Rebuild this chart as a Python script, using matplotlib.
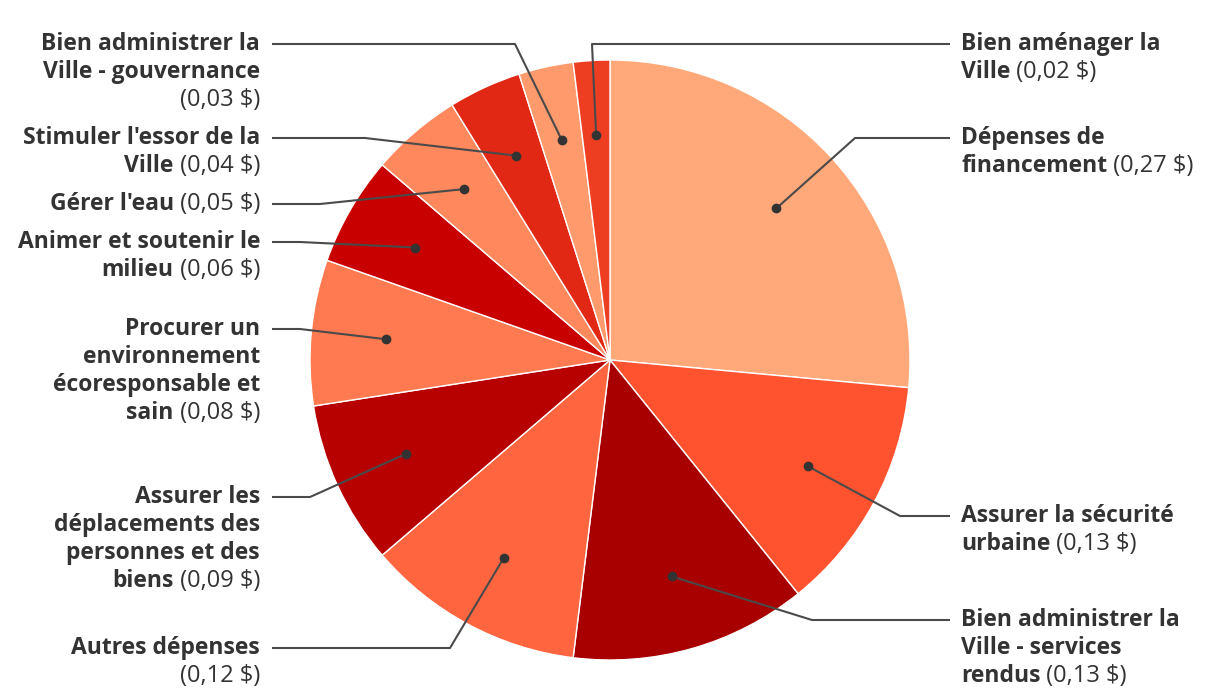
import numpy as np
import matplotlib.pyplot as plt

# data, clockwise from 12 o'clock
names = [
    "Dépenses de\nfinancement",
    "Assurer la sécurité\nurbaine",
    "Bien administrer la\nVille - services\nrendus",
    "Autres dépenses\n",
    "Assurer les\ndéplacements des\npersonnes et des\nbiens",
    "Procurer un\nenvironnement\nécoresponsable et\nsain",
    "Animer et soutenir le\nmilieu",
    "Gérer l'eau",
    "Stimuler l'essor de la\nVille",
    "Bien administrer la\nVille - gouvernance\n",
    "Bien aménager la\nVille",
]
values = [0.27, 0.13, 0.13, 0.12, 0.09, 0.08, 0.06, 0.05, 0.04, 0.03, 0.02]
colors = ["#FFA97A", "#FF5330", "#A80000", "#FF6640", "#B70000", "#FF7A50",
          "#C80000", "#FF885C", "#E02814", "#FF9A6C", "#EE3E22"]

# layout (pixels from top): label line y, elbow x, side
label_y = [138, 516, 620, 648, 497, 329, 242, 204, 138, 44, 44]
elbow_x = [855, 900, 812, 450, 310, 300, 300, 320, 365, 515, 592]
side = ["R", "R", "R", "L", "L", "L", "L", "L", "L", "L", "R"]

W, H = 1220, 700
CX, CY, R = 610, 340, 300
LEFT_X, RIGHT_X = 260, 961
LINE_H = 28
TXT = "#333333"
FONT = "Open Sans"
FS = 16.5
FS_VAL = 17

fig = plt.figure(figsize=(12.2, 7), dpi=100)
ax = fig.add_axes([0, 0, 1, 1])

wedges, _ = ax.pie(values, colors=colors, startangle=90, counterclock=False,
                   center=(CX, CY), radius=R,
                   wedgeprops=dict(edgecolor="white", linewidth=1))
ax.set_xlim(0, W)
ax.set_ylim(0, H)
ax.set_aspect("equal")
ax.axis("off")

fig.canvas.draw()
renderer = fig.canvas.get_renderer()


def text_width(t):
    bb = t.get_window_extent(renderer)
    return bb.width


def bold(x, y, s, ha):
    return ax.text(x, y, s, ha=ha, va="center", color=TXT, family=FONT,
                   fontsize=FS, fontweight="bold")


def plain(x, y, s, ha):
    return ax.text(x, y, s, ha=ha, va="center", color=TXT, family=FONT,
                   fontsize=FS_VAL)


for i, w in enumerate(wedges):
    mid = np.deg2rad((w.theta1 + w.theta2) / 2)
    dx = CX + 0.75 * R * np.cos(mid)
    dy = CY + 0.75 * R * np.sin(mid)
    ly = H - label_y[i]
    if side[i] == "L":
        lx0 = LEFT_X + 12
    else:
        lx0 = RIGHT_X - 11
    ax.plot([lx0, elbow_x[i], dx], [ly, ly, dy], color="#4a4a4a", lw=1.5,
            solid_capstyle="butt", zorder=3)
    ax.plot(dx, dy, "o", color="#333333", ms=6, zorder=4)

    val = f"({values[i]:.2f} $)".replace(".", ",")
    lines = names[i].split("\n")
    for k, line in enumerate(lines):
        y = ly - k * LINE_H
        last = k == len(lines) - 1
        if side[i] == "L":
            if last:
                if line == "":
                    plain(LEFT_X, y, val, "right")
                else:
                    wv = text_width(plain(LEFT_X, y, " " + val, "right"))
                    bold(LEFT_X - wv, y, line, "right")
            else:
                bold(LEFT_X, y, line, "right")
        else:
            if last:
                wb = text_width(bold(RIGHT_X, y, line, "left"))
                plain(RIGHT_X + wb, y, " " + val, "left")
            else:
                bold(RIGHT_X, y, line, "left")

fig.savefig("out.png", dpi=100, facecolor="white")
